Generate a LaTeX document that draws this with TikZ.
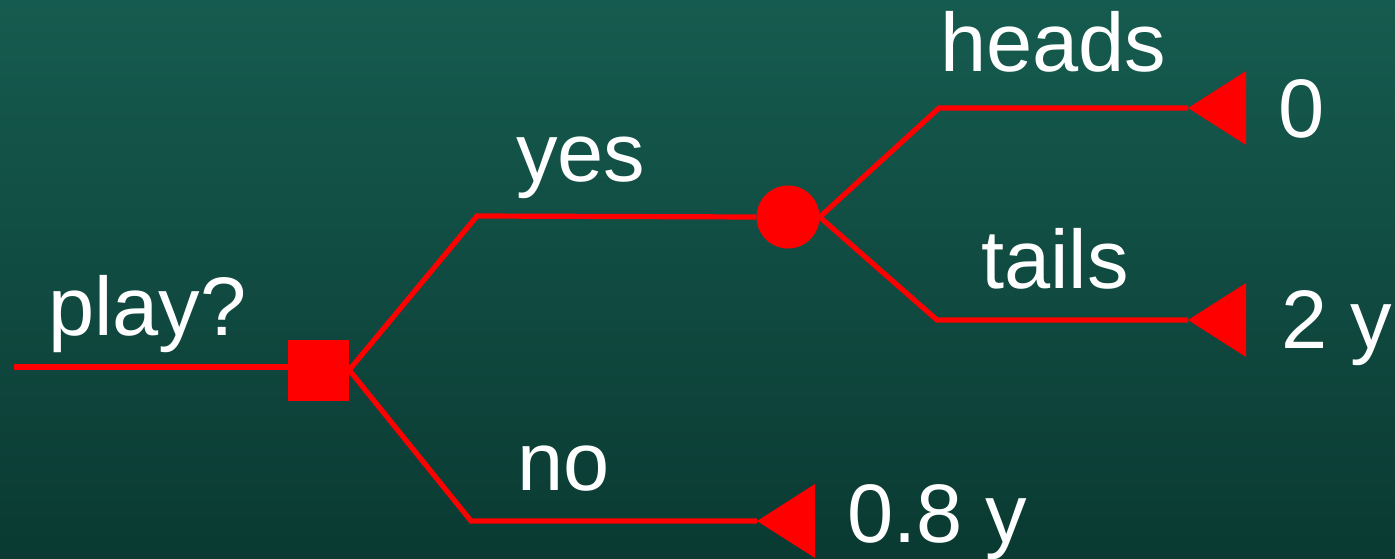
\documentclass[tikz,border=0pt]{standalone}
\usepackage{fontspec}
\setmainfont{Liberation Sans}
\definecolor{bgtop}{RGB}{22,91,79}
\definecolor{bgbot}{RGB}{10,58,50}
\begin{document}
\begin{tikzpicture}[x=1pt,y=-1pt,
  branch/.style={draw=red,line width=5.2pt,line join=miter},
  lbl/.style={anchor=base west,inner sep=0pt,text=white,font=\fontsize{83}{99}\selectfont},
  decision/.style={rectangle,fill=red,minimum size=61pt,inner sep=0pt},
  chance/.style={circle,fill=red,minimum size=63pt,inner sep=0pt}]
\useasboundingbox (0,0) rectangle (1395,559);
\shade[top color=bgtop,bottom color=bgbot] (0,0) rectangle (1395,559);
% nodes
\coordinate (root) at (14,367);
\node[decision] (sq) at (318.5,370) {};
\node[chance] (c) at (788,217) {};
\coordinate (kyes) at (477,216);
\coordinate (kno) at (471,521);
\coordinate (kh) at (939,108);
\coordinate (kt) at (937,320);
\coordinate (tno) at (757,521);
\coordinate (th) at (1188,108);
\coordinate (tt) at (1188,320);
% terminal triangles
\foreach \t in {tno,th,tt}
  \fill[red] (\t) -- ++(58,-37) -- ++(0,74) -- cycle;
% connectors
\draw[branch] (root) -- (root -| sq.west);
\draw[branch] (sq.east) -- (kyes) -- (c.west);
\draw[branch] (sq.east) -- (kno) -- (tno);
\draw[branch] (c.east) -- (kh) -- (th);
\draw[branch] (c.east) -- (kt) -- (tt);
% labels
\node[lbl] (lplay) at (48,335) {play?};
\node[lbl] (lyes) at (516,182) {yes};
\node[lbl] (lno) at (517,490) {no};
\node[lbl] (lheads) at (940,72) {heads};
\node[lbl] (ltails) at (981,288) {tails};
\node[lbl] (v0) at (1278,138) {0};
\node[lbl] (v2) at (1281,348) {2 y};
\node[lbl] (v08) at (847,542) {0.8 y};
\end{tikzpicture}
\end{document}
